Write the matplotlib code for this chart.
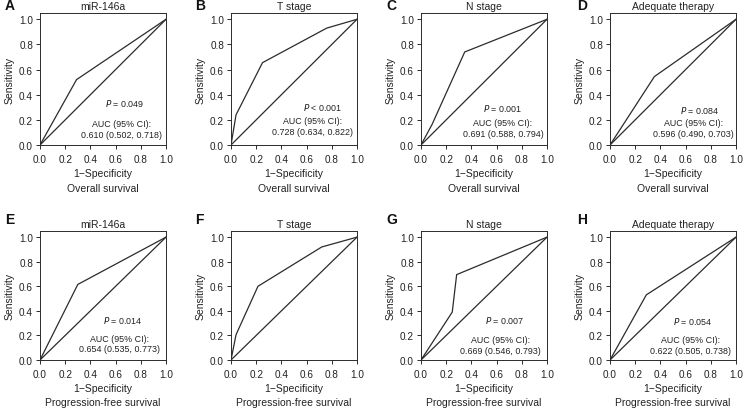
import matplotlib
matplotlib.use("Agg")
import matplotlib.pyplot as plt

plt.rcParams['font.family'] = ['Liberation Sans', 'DejaVu Sans']

# --- data ---
letters = ["A", "B", "C", "D", "E", "F", "G", "H"]
titles = ["miR-146a", "T stage", "N stage", "Adequate therapy",
          "miR-146a", "T stage", "N stage", "Adequate therapy"]
outcomes = ["Overall survival"] * 4 + ["Progression-free survival"] * 4

# ROC curve points (1-specificity, sensitivity)
fpr_a = [0.0, 0.29, 1.0]
tpr_a = [0.0, 0.52, 1.0]
fpr_b = [0.0, 0.04, 0.25, 0.76, 1.0]
tpr_b = [0.0, 0.24, 0.655, 0.93, 1.0]
fpr_c = [0.0, 0.088, 0.347, 1.0]
tpr_c = [0.0, 0.164, 0.74, 1.0]
fpr_d = [0.0, 0.352, 1.0]
tpr_d = [0.0, 0.544, 1.0]
fpr_e = [0.0, 0.30, 1.0]
tpr_e = [0.0, 0.615, 1.0]
fpr_f = [0.0, 0.04, 0.214, 0.72, 1.0]
tpr_f = [0.0, 0.206, 0.60, 0.92, 1.0]
fpr_g = [0.0, 0.248, 0.283, 1.0]
tpr_g = [0.0, 0.39, 0.695, 1.0]
fpr_h = [0.0, 0.288, 1.0]
tpr_h = [0.0, 0.53, 1.0]
fprs = [fpr_a, fpr_b, fpr_c, fpr_d, fpr_e, fpr_f, fpr_g, fpr_h]
tprs = [tpr_a, tpr_b, tpr_c, tpr_d, tpr_e, tpr_f, tpr_g, tpr_h]

p_text = ["= 0.049", "< 0.001", "= 0.001", "= 0.084",
          "= 0.014", None, "= 0.007", "= 0.054"]
auc_text = ["0.610 (0.502, 0.718)", "0.728 (0.634, 0.822)",
            "0.691 (0.588, 0.794)", "0.596 (0.490, 0.703)",
            "0.654 (0.535, 0.773)", None,
            "0.669 (0.546, 0.793)", "0.622 (0.505, 0.738)"]
ticks = [0.0, 0.2, 0.4, 0.6, 0.8, 1.0]

# annotation placement (data coords): P x, P y, AUC x, AUC y
p_xy = [(0.67, 0.34), (0.73, 0.305), (0.65, 0.30), (0.71, 0.286),
        (0.66, 0.326), None, (0.66, 0.326), (0.66, 0.32)]
auc_xy = [(0.65, 0.17), (0.65, 0.195), (0.65, 0.18), (0.665, 0.18),
          (0.63, 0.178), None, (0.63, 0.166), (0.64, 0.166)]

W, H = 744, 410
col_left = [40, 231, 421, 610]
row_top = [14, 232]
row_h = [132, 129]
ax_w = 126
letter_x = [5, 195, 386, 577]
letter_y = [6, 220]
label_spacing = [1.65, 1.5]

fig = plt.figure(figsize=(W / 100, H / 100), dpi=100)
line_col = "#2b2b2b"
txt_col = "#222222"

for i in range(8):
    r, c = divmod(i, 4)
    left = col_left[c] / W
    bottom = 1 - (row_top[r] + row_h[r]) / H
    ax = fig.add_axes([left, bottom, ax_w / W, row_h[r] / H])

    ax.plot(fprs[i], tprs[i], color=line_col, lw=0.9)
    ax.plot([0, 1], [0, 1], color=line_col, lw=0.9)

    ax.set_xlim(0, 1)
    ax.set_ylim(0, 1.05)
    ax.set_xticks(ticks)
    ax.set_yticks(ticks)
    ax.set_xticklabels([f"{t:.1f}" for t in ticks])
    ax.set_yticklabels([f"{t:.1f}" for t in ticks])
    ax.tick_params(direction="out", length=3, width=0.7, labelsize=7.2,
                   pad=2, color=line_col, labelcolor=txt_col)
    ax.tick_params(axis="x", pad=3.5)
    for s in ax.spines.values():
        s.set_linewidth(0.7)
        s.set_color(line_col)

    ax.set_title(titles[i], fontsize=7.5, pad=3, color=txt_col)
    ax.set_ylabel("Sensitivity", fontsize=7.5, labelpad=3, color=txt_col)
    ax.set_xlabel("1\u2212Specificity\n" + outcomes[i], fontsize=7.5,
                  labelpad=3, linespacing=label_spacing[r], color=txt_col)

    if p_text[i] is not None:
        ax.text(p_xy[i][0], p_xy[i][1], "$P$ " + p_text[i], fontsize=6.4,
                ha="center", va="center", color=txt_col)
        ax.text(auc_xy[i][0], auc_xy[i][1], "AUC (95% CI):", fontsize=6.4,
                ha="center", va="center", color=txt_col)
        ax.text(auc_xy[i][0], auc_xy[i][1] - 0.088, auc_text[i], fontsize=6.4,
                ha="center", va="center", color=txt_col)

    fig.text(letter_x[c] / W, 1 - letter_y[r] / H, letters[i], fontsize=10,
             fontweight="bold", ha="left", va="center", color="#111111")

fig.savefig("out.png", dpi=100)
